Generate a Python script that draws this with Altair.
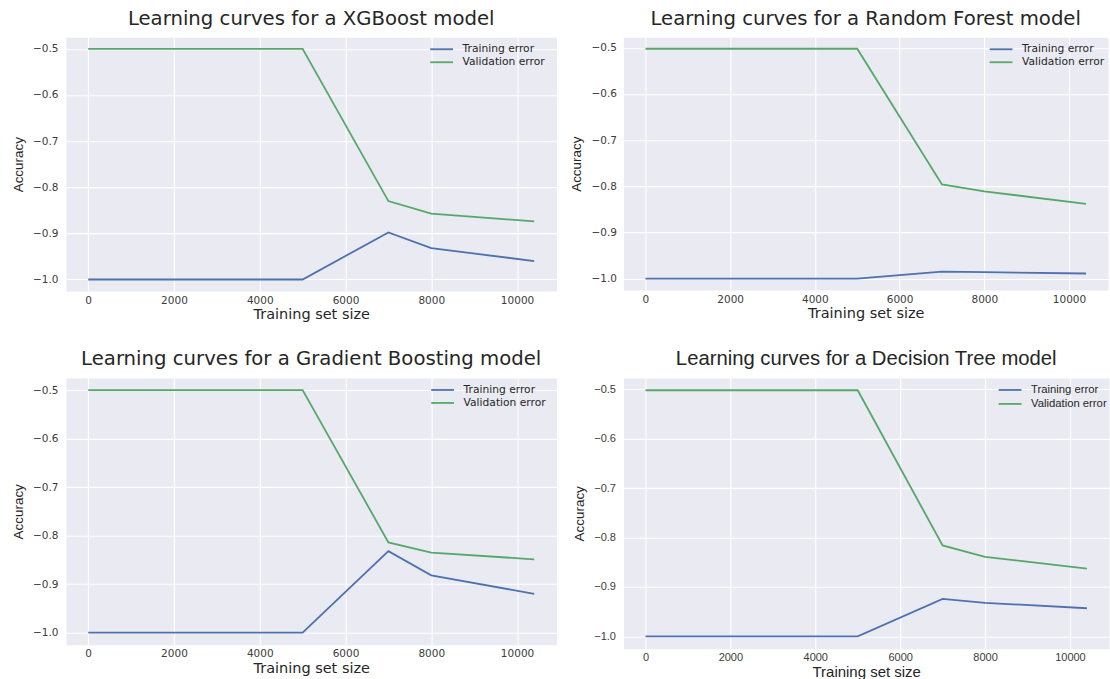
import altair as alt
import pandas as pd

# Training-set sizes used for every learning curve
train_sizes = [1, 5000, 7000, 8000, 10400]
series_names = ["Training error", "Validation error"]
line_colors = ["#4C72B0", "#55A868"]

x_ticks = [0, 2000, 4000, 6000, 8000, 10000]
y_ticks = [-1.0, -0.9, -0.8, -0.7, -0.6, -0.5]

# Scores per model (negated error, as returned by the scorer)
xgb_train = [-1.0, -1.0, -0.898, -0.932, -0.960]
xgb_val = [-0.5, -0.5, -0.830, -0.857, -0.874]

rf_train = [-1.0, -1.0, -0.985, -0.986, -0.989]
rf_val = [-0.502, -0.502, -0.796, -0.811, -0.838]

gb_train = [-1.0, -1.0, -0.832, -0.882, -0.920]
gb_val = [-0.5, -0.5, -0.814, -0.835, -0.849]

dt_train = [-1.0, -1.0, -0.924, -0.932, -0.943]
dt_val = [-0.502, -0.502, -0.816, -0.839, -0.863]

TEXT = "#262626"
TICK = "#3c3c3c"

# Legend key: a long horizontal stroke drawn from a small symbol size,
# so that the legend rows stay tight
KEY_PATH = "M-2,0H2"
KEY_SIZE = 130


def padded(lo, hi, frac=0.05):
    m = (hi - lo) * frac
    return [lo - m, hi + m]


def panel(title, train, val, width, height, legend_x, font, title_size,
          xtitle_size, tick_size, legend_size, y_label_pad, x_label_pad):
    n = len(train_sizes)
    df = pd.DataFrame({
        "size": train_sizes * 2,
        "score": train + val,
        "series": [series_names[0]] * n + [series_names[1]] * n,
    })
    all_scores = train + val
    x_dom = padded(min(train_sizes), max(train_sizes))
    y_dom = padded(min(all_scores), max(all_scores))
    return alt.Chart(
        df,
        title=alt.Title(
            title, font=font, fontSize=title_size, fontWeight="normal",
            color=TEXT, frame="group", anchor="middle", offset=9,
        ),
    ).mark_line(strokeWidth=1.8).encode(
        x=alt.X(
            "size:Q",
            scale=alt.Scale(domain=x_dom, nice=False, zero=False),
            axis=alt.Axis(
                values=x_ticks, format="d", title="Training set size",
                labelFont=font, labelFontSize=tick_size, labelColor=TICK,
                labelPadding=x_label_pad, titleFont=font,
                titleFontSize=xtitle_size, titleFontWeight="normal",
                titleColor=TEXT, titlePadding=2,
            ),
        ),
        y=alt.Y(
            "score:Q",
            scale=alt.Scale(domain=y_dom, nice=False, zero=False),
            axis=alt.Axis(
                values=y_ticks, format=".1f", title="Accuracy",
                labelFont=font, labelFontSize=tick_size, labelColor=TICK,
                labelPadding=y_label_pad, titleFont="Liberation Sans",
                titleFontSize=13.5, titleFontWeight="normal",
                titleColor=TEXT, titlePadding=7,
            ),
        ),
        color=alt.Color(
            "series:N",
            scale=alt.Scale(domain=series_names, range=line_colors),
            legend=alt.Legend(
                title=None, orient="none", legendX=legend_x, legendY=5,
                symbolType=KEY_PATH, symbolSize=KEY_SIZE,
                symbolStrokeWidth=1.8, labelFont=font,
                labelFontSize=legend_size, labelColor=TEXT,
                labelOffset=14, rowPadding=1, padding=0,
            ),
        ),
    ).properties(width=width, height=height)


p_xgb = panel("Learning curves for a XGBoost model", xgb_train, xgb_val,
              491, 254, 369, "DejaVu Sans", 19.7, 14.5, 10.5, 10.7, 8, 4)
p_rf = panel("Learning curves for a Random Forest model", rf_train, rf_val,
             485, 253, 371, "DejaVu Sans", 19.7, 14.5, 10.5, 10.7, 7, 4)
p_gb = panel("Learning curves for a Gradient Boosting model", gb_train, gb_val,
             491, 267, 370, "DejaVu Sans", 19.7, 14.5, 10.5, 10.7, 8, 4)
p_dt = panel("Learning curves for a Decision Tree model", dt_train, dt_val,
             486, 271, 380, "Liberation Sans", 20.3, 15, 11, 11.3, 8, 3)

chart = alt.concat(
    p_xgb, p_rf, p_gb, p_dt,
    columns=2, bounds="flush", spacing={"row": 87, "column": 67},
).resolve_scale(
    x="independent", y="independent", color="independent"
).resolve_legend(
    color="independent"
).configure(
    background="white",
    padding={"left": 11, "top": 7, "right": 0, "bottom": 0},
).configure_view(
    fill="#EAEAF2", stroke="transparent"
).configure_axis(
    domain=False, ticks=False, gridColor="white", gridWidth=1.1, gridOpacity=1,
)

chart.save("out.html", embed_options={"renderer": "svg", "actions": False})
